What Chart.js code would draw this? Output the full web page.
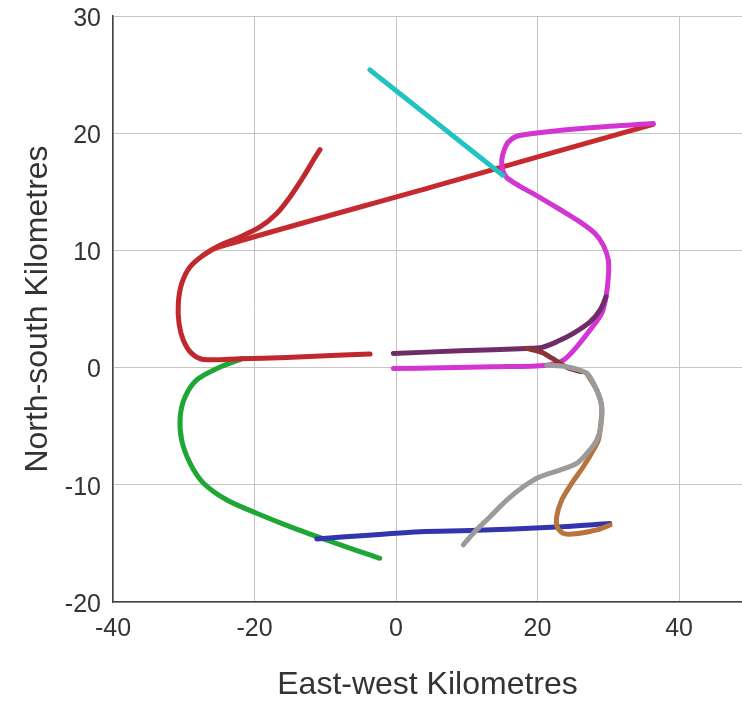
<!DOCTYPE html>
<html><head><meta charset="utf-8">
<script src="https://cdn.jsdelivr.net/npm/chart.js@4.4.1/dist/chart.umd.min.js"></script>
<style>html,body{margin:0;padding:0;background:#fff;} canvas{display:block;}</style>
</head><body>
<canvas id="c" width="742" height="704"></canvas>
<script>
const xTickValues = [-40, -20, 0, 20, 40];
const yTickValues = [-20, -10, 0, 10, 20, 30];
const xTitle = 'East-west Kilometres';
const yTitle = 'North-south Kilometres';

const cyanTrack = [[-3.7,25.4],[5.7,20.9],[15.1,16.4]];
const greyTrack = [[21.3,0.2],[24.1,0.07],[26.95,-0.49],[28.37,-1.92],[29.07,-3.34],[28.93,-5.05],[28.37,-6.18],[27.18,-7.18],[25.54,-8.17],[23.18,-8.74],[20.35,-9.31],[17.99,-10.16],[15.65,-11.3],[13.29,-12.72],[10.93,-14.13],[9.51,-15.13]];
const brownTrack = [[26.95,-0.49],[28.37,-1.92],[29.07,-3.34],[28.9,-5.0],[28.6,-6.18],[27.89,-7.03],[26.47,-8.46],[24.83,-9.87],[23.42,-11.3],[22.71,-12.72],[22.86,-13.71],[23.89,-14.19],[26.0,-14.13],[28.37,-13.85],[30.25,-13.43]];
const maroonTrack = [[18.47,1.64],[20.6,1.3],[22.1,0.78],[24.2,0.0],[26.2,-0.35]];
const purpleTrack = [[-0.38,1.21],[9.05,1.43],[18.47,1.64],[20.59,1.72],[22.71,2.2],[25.06,2.92],[27.42,3.9],[28.83,4.9],[29.68,6.04]];
const magentaTrack = [[36.37,20.82],[27.89,20.48],[19.89,20.02],[17.06,19.74],[15.87,19.25],[15.27,18.54],[14.94,17.69],[15.08,16.84],[15.65,16.21],[17.53,15.47],[20.35,14.51],[23.18,13.49],[26.0,12.43],[28.13,11.44],[29.3,10.44],[30.01,9.16],[30.01,7.74],[29.68,6.04],[29.07,4.62],[27.42,3.2],[25.54,1.77],[23.65,0.64],[21.3,0.21],[13.75,0.07],[6.69,-0.02],[-0.38,-0.07]];
const redStraightTrack = [[36.33,20.76],[5.0,15.4],[-25.5,10.2],[-27.24,9.59]];
const redLoopTrack = [[-10.74,18.6],[-11.69,17.69],[-13.1,16.27],[-14.98,14.56],[-16.86,13.15],[-19.22,12.0],[-22.05,11.15],[-24.88,10.44],[-27.24,9.59],[-29.12,8.59],[-30.29,7.18],[-30.77,5.47],[-30.67,3.77],[-30.06,2.34],[-28.88,1.21],[-27.24,0.7],[-22.05,0.75],[-15.45,0.87],[-7.45,1.07],[-3.67,1.15]];
const blueTrack = [[-11.2,-14.62],[3.4,-14.0],[10.5,-13.9],[22.7,-13.6],[30.2,-13.3]];
const greenTrack = [[-21.6,0.78],[-25.3,-0.07],[-28.2,-1.07],[-29.8,-2.49],[-30.5,-4.19],[-30.3,-6.18],[-29.1,-8.17],[-27.2,-9.87],[-23.9,-11.3],[-19.7,-12.43],[-15.0,-13.57],[-9.8,-14.71],[-5.1,-15.7],[-2.3,-16.27]];

const FONT = "'Liberation Sans', Arial, Helvetica, sans-serif";
const mk = (track, color) => ({
  data: track.map(([x, y]) => ({x, y})),
  borderColor: color, backgroundColor: color,
  borderWidth: 5, showLine: true, pointRadius: 0, pointHoverRadius: 0,
  tension: 0.3, borderCapStyle: 'round', borderJoinStyle: 'round'
});

new Chart(document.getElementById('c'), {
  type: 'scatter',
  data: {
    datasets: [
      mk(cyanTrack, '#22c2c2'),
      mk(greyTrack, '#9b9b9b'),
      mk(brownTrack, '#b8743e'),
      mk(maroonTrack, '#8a3434'),
      mk(purpleTrack, '#6e2d68'),
      mk(magentaTrack, '#d335d3'),
      mk(redStraightTrack, '#c72a2e'),
      mk(redLoopTrack, '#c0282d'),
      mk(blueTrack, '#3434ae'),
      mk(greenTrack, '#20a634')
    ]
  },
  options: {
    responsive: false,
    animation: false,
    devicePixelRatio: 1,
    layout: { padding: { top: 16, right: 0, left: 0, bottom: 0 } },
    plugins: { legend: { display: false }, tooltip: { enabled: false } },
    scales: {
      x: {
        type: 'linear', min: -40, max: 48.9,
        afterBuildTicks: s => { s.ticks = xTickValues.map(v => ({ value: v })); },
        afterFit: s => { s.height = 102; s.paddingLeft = 0; s.paddingRight = 0; },
        grid: { color: '#c4c4c4', lineWidth: 1, drawTicks: false },
        border: { color: '#444', width: 1.5 },
        ticks: { padding: 12, color: '#333', font: { family: FONT, size: 25 } },
        title: { display: true, text: xTitle, color: '#333', font: { family: FONT, size: 32 }, padding: { top: 0, bottom: 0 } }
      },
      y: {
        type: 'linear', min: -20, max: 30,
        afterBuildTicks: s => { s.ticks = yTickValues.map(v => ({ value: v })); },
        afterFit: s => { s.width = 113; s.paddingTop = 0; s.paddingBottom = 0; },
        grid: { color: '#c4c4c4', lineWidth: 1, drawTicks: false },
        border: { color: '#444', width: 1.5 },
        ticks: { padding: 12, labelOffset: 3, color: '#333', font: { family: FONT, size: 25 } },
        title: { display: true, text: yTitle, color: '#333', font: { family: FONT, size: 32 }, padding: { top: 19, bottom: 0 } }
      }
    }
  }
});
</script>
</body></html>
